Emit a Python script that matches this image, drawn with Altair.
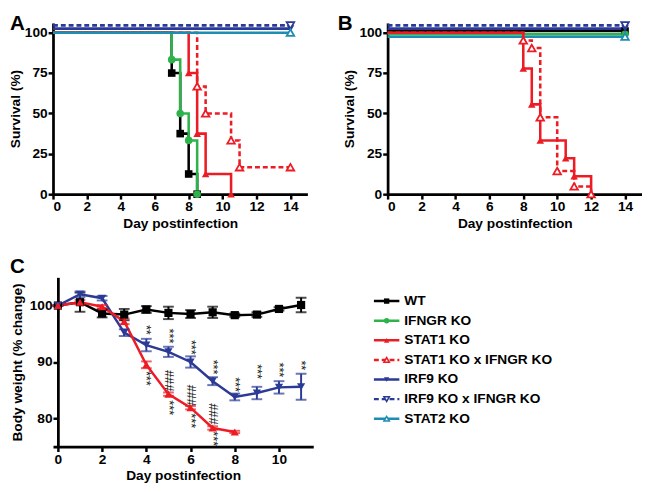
import altair as alt
import pandas as pd

FONT = "Liberation Sans"

series = ["WT", "IFNGR KO", "STAT1 KO", "STAT1 KO x IFNGR KO",
          "IRF9 KO", "IRF9 KO x IFNGR KO", "STAT2 KO"]
colors = ["#000000", "#2db34a", "#ed1c24", "#ed1c24", "#2b3a96", "#2b3a96", "#1f8db3"]
shapes = ["square", "circle", "triangle-up", "triangle-up",
          "triangle-down", "triangle-down", "triangle-up"]
is_open = [False, False, False, True, False, True, True]
dashes = [[1, 0], [1, 0], [1, 0], [5, 3], [1, 0], [5, 3], [1, 0]]

# ---- Panel A: survival ----
a_days = {
    "WT": [0, 7, 7.5, 8, 8.5],
    "IFNGR KO": [0, 7, 7.5, 8, 8.5],
    "STAT1 KO": [0, 8, 8.5, 9, 10.5],
    "STAT1 KO x IFNGR KO": [0, 8.5, 9, 10.5, 11, 14],
    "IRF9 KO": [0, 14],
    "IRF9 KO x IFNGR KO": [0, 14],
    "STAT2 KO": [0, 14],
}
a_surv = {
    "WT": [100, 75, 37.5, 12.5, 0],
    "IFNGR KO": [100, 83.3, 50, 33.3, 0],
    "STAT1 KO": [100, 75, 37.5, 12.5, 0],
    "STAT1 KO x IFNGR KO": [100, 66.7, 50, 33.3, 16.7, 16.7],
    "IRF9 KO": [102.5, 102.5],
    "IRF9 KO x IFNGR KO": [104.5, 104.5],
    "STAT2 KO": [100, 100],
}

# ---- Panel B: survival ----
b_days = {
    "WT": [0, 14],
    "IFNGR KO": [0, 14],
    "STAT2 KO": [0, 14],
    "STAT1 KO": [0, 8, 8.5, 9, 10.5, 11, 12],
    "STAT1 KO x IFNGR KO": [0, 8, 8.5, 9, 10, 11, 12],
    "IRF9 KO": [0, 14],
    "IRF9 KO x IFNGR KO": [0, 14],
}
b_surv = {
    "WT": [101, 101],
    "IFNGR KO": [99, 99],
    "STAT2 KO": [97.5, 97.5],
    "STAT1 KO": [100, 77.8, 55.6, 33.3, 22.2, 11.1, 0],
    "STAT1 KO x IFNGR KO": [100, 95.2, 90.5, 47.6, 14.3, 4.8, 0],
    "IRF9 KO": [102.5, 102.5],
    "IRF9 KO x IFNGR KO": [104.5, 104.5],
}

# ---- Panel C: body weight ----
c_wt_day = [0, 1, 2, 3, 4, 5, 6, 7, 8, 9, 10, 11]
c_wt_w = [100, 100.6, 98.6, 98.4, 99.3, 98.7, 98.5, 98.8, 98.3, 98.4, 99.4, 100.1]
c_wt_err = [0, 1.7, 0.7, 1.0, 0.6, 1.1, 0.7, 1.0, 0.3, 0.4, 0.3, 1.3]
c_irf9_day = [0, 1, 2, 3, 4, 5, 6, 7, 8, 9, 10, 11]
c_irf9_w = [100, 102.0, 101.3, 95.2, 93.0, 91.8, 90.0, 86.6, 83.8, 84.5, 85.5, 85.6]
c_irf9_err = [0, 0.5, 0.4, 0.6, 1.1, 0.9, 1.0, 0.7, 0.6, 1.1, 1.1, 2.3]
c_stat1_day = [0, 1, 2, 3, 4, 5, 6, 7, 8]
c_stat1_w = [100, 100.6, 99.8, 97.2, 89.5, 84.3, 81.9, 78.3, 77.6]
c_stat1_err = [0, 0.4, 0.3, 0.5, 0.6, 0.3, 0.3, 0.3, 0.2]

ann_day = [4, 5, 6, 7, 8, 9, 10, 11, 4, 5, 5, 6, 6, 7, 7]
ann_y = [95.7, 94.6, 92.6, 89.1, 86.0, 88.3, 88.6, 89.4,
         87.1, 86.7, 81.9, 84.1, 79.6, 80.8, 76.4]
ann_txt = ["**", "***", "***", "***", "***", "***", "***", "**",
           "***", "###", "***", "###", "***", "###", "***"]

letters = ["A", "B", "C"]


def survival_df(days, surv):
    rows = []
    for s in series:
        if s in days:
            for d, v in zip(days[s], surv[s]):
                rows.append({"series": s, "day": d, "surv": v,
                             "open": is_open[series.index(s)],
                             "order": list(days.keys()).index(s)})
    return pd.DataFrame(rows).sort_values(["order", "day"])


color_enc = alt.Color("series:N", scale=alt.Scale(domain=series, range=colors), legend=None)
shape_enc = alt.Shape("series:N", scale=alt.Scale(domain=series, range=shapes), legend=None)
dash_enc = alt.StrokeDash("series:N", scale=alt.Scale(domain=series, range=dashes), legend=None)


def letter_layer(letter, dx, dy):
    return alt.Chart(pd.DataFrame({"t": [letter]})).mark_text(
        align="left", baseline="top", fontSize=21, fontWeight="bold", font=FONT, color="black"
    ).encode(text="t:N", x=alt.value(dx), y=alt.value(dy))


def survival_panel(days, surv, letter, dx):
    df = survival_df(days, surv)
    x = alt.X("day:Q", scale=alt.Scale(domain=[0, 15], nice=False, zero=False),
              axis=alt.Axis(values=list(range(0, 15, 2)), title="Day postinfection", format="d"))
    y = alt.Y("surv:Q", scale=alt.Scale(domain=[0, 106], nice=False),
              axis=alt.Axis(values=[0, 25, 50, 75, 100], title="Survival (%)", titlePadding=2))
    base = alt.Chart(df)
    lines = base.mark_line(interpolate="step-after", strokeWidth=2.6).encode(
        x=x, y=y, color=color_enc, strokeDash=dash_enc, detail="series:N",
        order="day:Q")
    filled = base.transform_filter("datum.day > 0 && !datum.open").mark_point(
        filled=True, size=60, opacity=1).encode(x=x, y=y, color=color_enc, shape=shape_enc)
    opened = base.transform_filter("datum.day > 0 && datum.open").mark_point(
        filled=False, fill="white", size=60, strokeWidth=1.8, opacity=1).encode(
        x=x, y=y, color=color_enc, shape=shape_enc)
    return alt.layer(lines, filled, opened, letter_layer(letter, dx, -10)).properties(
        width=260, height=175)


panelA = survival_panel(a_days, a_surv, letters[0], -44)
panelB = survival_panel(b_days, b_surv, letters[1], -51)

# weight panel
wrows = []
for s, dd, ww, ee in [("WT", c_wt_day, c_wt_w, c_wt_err),
                      ("IRF9 KO", c_irf9_day, c_irf9_w, c_irf9_err),
                      ("STAT1 KO", c_stat1_day, c_stat1_w, c_stat1_err)]:
    for d, w, e in zip(dd, ww, ee):
        wrows.append({"series": s, "day": d, "w": w, "lo": w - e, "hi": w + e})
wdf = pd.DataFrame(wrows)
adf = pd.DataFrame({"day": ann_day, "y": ann_y, "t": ann_txt})

cx = alt.X("day:Q", scale=alt.Scale(domain=[-0.221, 11.55], nice=False, zero=False),
           axis=alt.Axis(values=[0, 2, 4, 6, 8, 10], title="Day postinfection", format="d"))
cy = alt.Y("w:Q", scale=alt.Scale(domain=[75, 105], nice=False, zero=False),
           axis=alt.Axis(values=[80, 90, 100], title="Body weight (% change)", offset=-5,
                         titlePadding=5))
wbase = alt.Chart(wdf)
w_lines = wbase.mark_line(strokeWidth=2.5).encode(x=cx, y=cy, color=color_enc, detail="series:N")
w_err = wbase.mark_rule(strokeWidth=2).encode(x=cx, y=alt.Y("lo:Q"), y2="hi:Q", color=color_enc)
w_cap_lo = wbase.mark_tick(orient="horizontal", size=11, thickness=2).encode(
    x=cx, y=alt.Y("lo:Q"), color=color_enc)
w_cap_hi = wbase.mark_tick(orient="horizontal", size=11, thickness=2).encode(
    x=cx, y=alt.Y("hi:Q"), color=color_enc)
w_pts = wbase.mark_point(filled=True, size=70, opacity=1).encode(
    x=cx, y=cy, color=color_enc, shape=shape_enc)
w_ann = alt.Chart(adf).mark_text(angle=90, fontSize=13, font=FONT, color="#111111",
                                 opacity=0.99).encode(
    x=alt.X("day:Q"), y=alt.Y("y:Q"), text="t:N")
panelC = alt.layer(w_lines, w_err, w_cap_lo, w_cap_hi, w_pts, w_ann,
                   letter_layer(letters[2], -44, -21)).properties(width=266, height=173)

# legend panel
ldf = pd.DataFrame({"series": series, "row": list(range(len(series))), "open": is_open})
ly = alt.Y("row:Q", scale=alt.Scale(domain=[-1.21, 7.42], reverse=True, nice=False, zero=False),
           axis=None)
lbase = alt.Chart(ldf)
l_lines = lbase.mark_rule(strokeWidth=2.5).encode(
    x=alt.value(-14), x2=alt.value(12), y=ly, color=color_enc, strokeDash=dash_enc)
l_filled = lbase.transform_filter("!datum.open").mark_point(filled=True, size=30, opacity=1).encode(
    x=alt.value(-1), y=ly, color=color_enc, shape=shape_enc)
l_open = lbase.transform_filter("datum.open").mark_point(
    filled=False, fill="white", size=30, strokeWidth=1.6, opacity=1).encode(
    x=alt.value(-1), y=ly, color=color_enc, shape=shape_enc)
l_text = lbase.mark_text(align="left", baseline="middle", fontSize=14, fontWeight="bold",
                         font=FONT, color="black").encode(x=alt.value(17), y=ly, text="series:N")
panelL = alt.layer(l_lines, l_filled, l_open, l_text).properties(width=260, height=173)

chart = alt.concat(panelA, panelB, panelC, panelL, columns=2, bounds="flush",
                   spacing={"row": 85, "column": 76}).properties(padding=0).configure_view(
    stroke=None).configure_axis(
    domainColor="black", domainWidth=2.8, tickColor="black", tickWidth=2.5, tickSize=5,
    labelFont=FONT, labelFontSize=14, labelFontWeight="bold", labelColor="black",
    labelPadding=1, titleFont=FONT, titleFontSize=14, titleFontWeight="bold",
    titleColor="black", grid=False, titlePadding=3)

chart.save("out.html", embed_options={"renderer": "svg", "actions": False})
